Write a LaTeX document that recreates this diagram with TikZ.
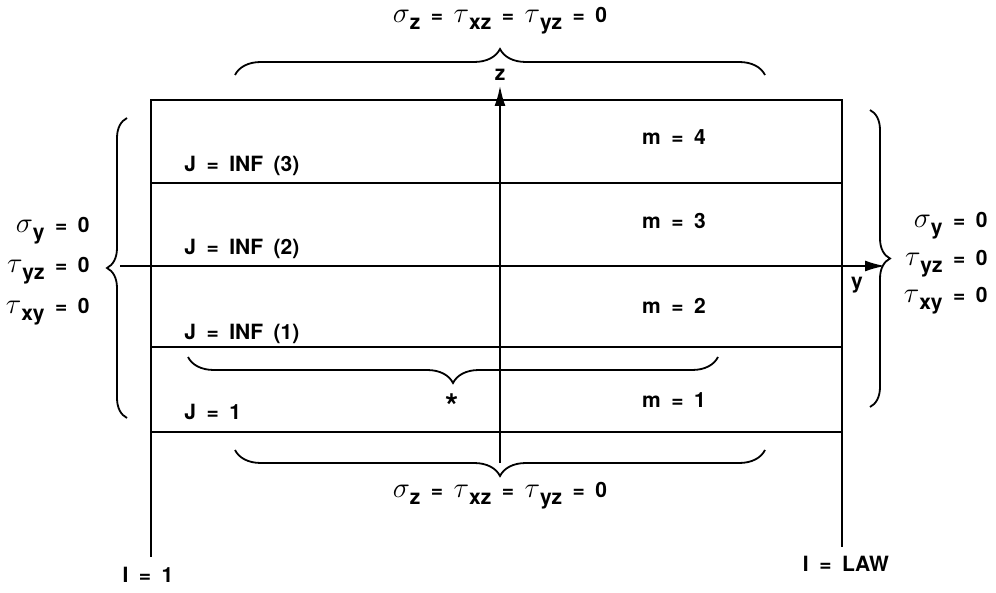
\documentclass[tikz,border=0pt]{standalone}
\usepackage{fontspec}
\setmainfont{TeX Gyre Heros}
\usetikzlibrary{arrows.meta,decorations.pathreplacing}
\newcommand{\gs}[2]{{\fontsize{15}{15}\selectfont$#1$}\raisebox{-.6ex}{#2}}
\newcommand{\widesp}{\spaceskip=.5em plus .1em\relax}
\begin{document}
\begin{tikzpicture}[x=0.5pt,y=-0.5pt,>={Latex[length=10pt,width=5.5pt]},
  every node/.style={inner sep=0pt,font=\fontsize{10.5}{12}\bfseries\selectfont\widesp},
  brc/.style={decorate,decoration={brace,amplitude=#1},line width=.9pt},
  wall/.style={line width=1.1pt}]
\useasboundingbox (0,0) rectangle (996,593);
\coordinate (A) at (151,100);
\coordinate (C) at (842,432);
\coordinate (yO) at (120,266);
\coordinate (yE) at (885,266);
\coordinate (zO) at (500,463);
\coordinate (zE) at (500,86);
\path
(500,21)  node (top) {\gs\sigma{z} = \gs\tau{xz} = \gs\tau{yz} = 0}
(500,496) node (bot) {\gs\sigma{z} = \gs\tau{xz} = \gs\tau{yz} = 0}
(500,75)  node (z) {z}
(857,285) node (y) {y}
(452,406) node[font=\fontsize{17}{17}\bfseries\selectfont] (star) {*}
(90,233)  node[anchor=base east] (l1) {\gs\sigma{y} = 0}
(90,273)  node[anchor=base east] (l2) {\gs\tau{yz} = 0}
(90,314)  node[anchor=base east] (l3) {\gs\tau{xy} = 0}
(988,228) node[anchor=base east] (r1) {\gs\sigma{y} = 0}
(988,266) node[anchor=base east] (r2) {\gs\tau{yz} = 0}
(988,303) node[anchor=base east] (r3) {\gs\tau{xy} = 0}
(184,172) node[anchor=base west] (j3) {J = INF (3)}
(184,255) node[anchor=base west] (j2) {J = INF (2)}
(184,340) node[anchor=base west] (j1) {J = INF (1)}
(184,419) node[anchor=base west] (j0) {J = 1}
(674,145) node[anchor=base] (m4) {m = 4}
(674,229) node[anchor=base] (m3) {m = 3}
(674,314) node[anchor=base] (m2) {m = 2}
(674,407) node[anchor=base] (m1) {m = 1}
(148,582) node[anchor=base] (i1) {I = 1}
(846,571) node[anchor=base] (iL) {I = LAW};
% layers
\draw[wall] (A) rectangle (C);
\foreach \h in {183,347}
  \draw[wall] (151,\h) -- (842,\h);
\draw[wall] (A|-C) -- ++(0,125);
\draw[wall] (C) -- ++(0,115);
% axes
\draw[->,line width=.9pt] (yO)--(yE);
\draw[->,line width=.9pt] (zO)--(zE);
% braces
\draw[brc=13pt] (235,75) -- (765,75);
\draw[brc=13pt] (765,450) -- (235,450);
\draw[brc=13pt] (718,357) -- (188,357);
\draw[brc=10pt] (127,418) -- (127,118);
\draw[brc=10pt] (870,110) -- (870,407);
\end{tikzpicture}
\end{document}
